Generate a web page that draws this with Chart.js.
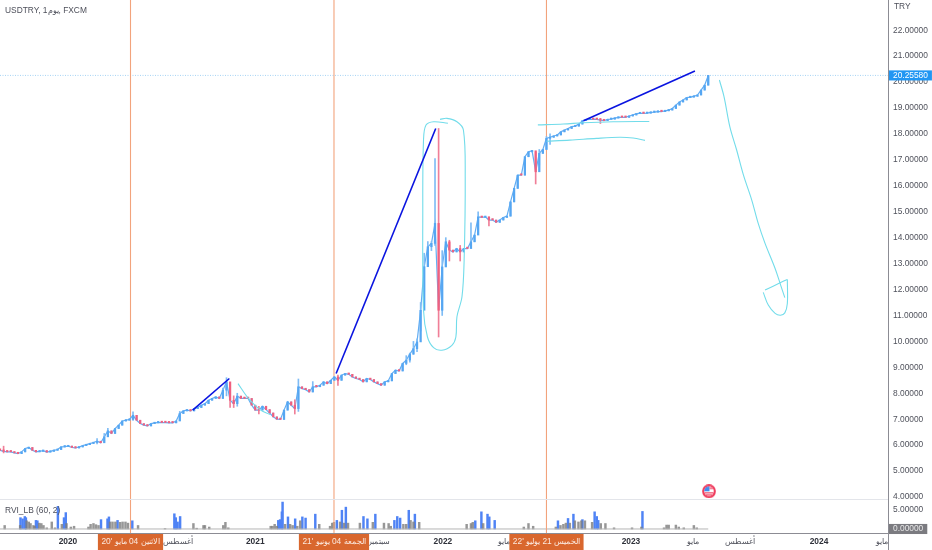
<!DOCTYPE html>
<html><head><meta charset="utf-8">
<style>html,body{margin:0;padding:0;background:#fff}canvas{display:block}</style>
<script src="https://cdn.jsdelivr.net/npm/chart.js@4"></script></head>
<body><canvas id="c" width="932" height="550"></canvas>
<script>
// Weekly closes from week 0; weeks are the x units of the chart
const closes=[5.80,5.76,5.74,5.74,5.70,5.67,5.74,5.87,5.91,5.80,5.74,5.76,5.79,5.73,5.76,5.80,5.83,5.93,5.94,5.96,5.91,5.89,5.93,5.98,6.02,6.06,6.10,6.15,6.09,6.32,6.55,6.45,6.64,6.77,6.93,6.96,6.99,7.15,6.96,6.83,6.77,6.74,6.83,6.86,6.87,6.87,6.87,6.86,6.86,6.93,7.22,7.32,7.35,7.32,7.41,7.45,7.54,7.60,7.73,7.80,7.86,7.80,8.12,8.44,7.73,7.60,7.89,7.80,7.80,7.80,7.54,7.35,7.35,7.50,7.37,7.24,7.09,7.00,6.99,7.35,7.67,7.54,7.41,8.25,8.18,8.14,8.05,8.25,8.25,8.31,8.44,8.37,8.50,8.63,8.50,8.70,8.76,8.73,8.63,8.57,8.53,8.44,8.57,8.53,8.44,8.37,8.31,8.44,8.48,8.76,8.89,8.86,9.15,9.28,9.51,9.72,9.98,11.20,12.88,13.65,13.78,14.55,11.20,12.87,13.84,13.52,13.45,13.58,13.45,13.58,13.58,13.84,14.10,14.80,14.78,14.80,14.68,14.68,14.59,14.68,14.78,14.83,15.38,15.90,16.41,16.41,17.12,17.31,17.35,16.54,17.25,17.40,17.83,17.87,17.92,17.96,18.08,18.15,18.21,18.28,18.30,18.38,18.51,18.55,18.56,18.56,18.56,18.53,18.51,18.56,18.57,18.61,18.64,18.64,18.64,18.69,18.73,18.78,18.79,18.79,18.80,18.83,18.84,18.86,18.86,18.89,18.92,18.98,19.11,19.23,19.31,19.40,19.42,19.45,19.50,19.69,19.88,20.2558];
// Weeks whose wick reaches beyond the body: week, low, high
const wicks=[[1,5.7,5.96],[27,6.05,6.25],[29,6.15,6.45],[30,6.35,6.65],[37,6.95,7.28],[50,6.95,7.3],[62,7.8,8.2],[63,7.9,8.6],[64,7.45,8.4],[65,7.45,7.9],[66,7.5,8.0],[72,7.2,7.5],[82,7.2,7.75],[83,7.3,8.55],[87,8.05,8.45],[94,8.3,8.7],[113,9.1,9.45],[114,9.2,9.55],[115,9.5,10.0],[116,9.6,10.1],[117,10.4,11.5],[118,11.9,13.4],[119,12.9,13.85],[120,13.5,13.85],[121,13.7,17.05],[122,10.17,18.21],[123,11.0,13.5],[124,12.9,14.0],[125,13.1,13.9],[128,13.1,13.7],[131,13.6,14.57],[133,14.4,15.0],[136,14.45,14.8],[149,16.07,17.3],[150,16.8,17.4],[152,17.4,17.9],[153,17.6,18.0],[167,18.4,18.6]];
const lastPrice=20.2558;
const rviBlueX=[5.7,6.3,6.9,7.2,10.0,10.4,16.1,17.8,18.3,28.1,29.9,30.3,32.7,36.8,48.5,48.9,49.4,50.1,77.4,77.9,78.4,78.6,80.1,82.1,84.1,85.0,87.7,93.7,95.1,96.2,101.1,102.2,104.4,109.7,110.5,111.3,113.7,115.4,132.2,133.9,135.6,136.1,137.6,155.2,158.0,159.5,162.0,165.4,166.0,166.4,178.7];
const rviBlue=[2.9,2.6,3.2,2.9,2.2,2.1,5.8,2.9,4.2,2.4,2.6,3.1,2.2,2.1,3.9,2.9,1.8,3.2,2.2,2.4,4.4,6.9,3.1,2.6,3.1,2.8,3.8,2.2,4.8,5.6,3.2,2.6,3.8,2.2,3.2,2.8,4.8,3.8,2.1,4.4,3.8,3.1,2.2,2.1,2.7,3.8,2.4,4.4,3.2,2.2,4.5];
const rviGrayX=[1.3,5.6,7.4,8.0,8.5,9.3,9.6,10.9,11.5,12.1,13.0,14.4,15.3,17.2,18.5,19.7,20.6,24.6,25.2,26.0,26.7,27.4,30.6,31.3,32.1,33.4,34.1,34.9,35.6,38.4,45.9,53.8,54.7,56.6,57.0,58.2,62.1,62.7,63.5,75.3,75.8,76.4,77.0,79.3,80.7,81.4,82.7,83.5,88.8,91.8,92.4,92.9,94.6,95.7,96.8,100.1,103.7,106.8,108.1,108.7,112.2,113.0,114.2,115.0,116.6,129.8,131.0,131.5,134.4,145.7,147.0,148.3,154.6,155.9,156.7,157.4,158.5,159.9,160.9,161.7,162.7,164.7,167.1,168.4,170.8,175.8,178.4,184.7,185.4,186.0,188.0,188.8,190.2,193.0,193.8];
const rviGray=[.9,.9,2.1,1.8,1.4,.9,.7,1.5,1.4,.9,.3,1.8,.3,1.2,1.4,.5,.7,.5,1.2,1.4,1.1,.9,1.8,1.8,1.8,1.7,1.8,1.8,1.5,.9,.1,1.4,.2,.9,.9,.5,.9,1.7,.3,.7,.7,1.2,.7,1.2,1.2,.9,.7,2.1,1.2,.7,1.5,1.7,1.8,1.5,1.5,1.5,1.7,1.5,1.4,.7,1.2,1.2,2.2,1.8,1.7,1.2,1.4,1.7,1.4,.5,1.4,.7,.5,.9,1.2,1.5,1.5,2.1,1.8,2.1,2.1,1.7,1.4,1.4,.3,.3,.5,.3,1.0,1.0,1.0,.5,.3,.9,.3];
// Hand-drawn annotations as [week, price]
const blueLines=[[[53.6,7.35],[63.8,8.57]],[[93.5,8.76],[121.2,18.21]],[[162.3,18.51],[193.3,20.43]]];
const cyanCurves=[
 [[66.2,8.37],[69.1,7.80],[72.3,7.37],[75.1,7.18]],
 [[124.6,18.41],[120.6,18.47],[118.5,18.34],[117.8,17.76],[117.6,15.06],[117.8,11.2],[118.9,10.17],[120.6,9.76],[122.9,9.66],[125.7,9.85],[126.8,10.17],[127.1,10.95],[128.5,11.72],[129.1,13.13],[129.4,16.35],[128.9,18.15],[127.1,18.47],[124.3,18.6],[122.4,18.56]],
 [[149.6,18.35],[156.7,18.38],[162.2,18.43],[170.6,18.47],[180.6,18.48]],
 [[152.0,17.72],[158.5,17.76],[165.9,17.83],[172.4,17.87],[176.1,17.84],[179.4,17.75]],
 [[200.1,20.08],[201.4,19.43],[203.0,18.28],[204.9,17.38],[206.8,16.41],[209.1,15.45],[210.9,14.55],[212.8,13.78],[215.6,12.81],[217.0,12.23],[218.3,11.69]],
 [[219.0,12.39],[217.0,12.26],[212.8,11.98]],
 [[212.3,11.89],[213.7,11.4],[215.6,11.08],[217.1,11.01],[218.3,11.10],[219.0,11.46],[219.0,12.39]]
];
const eventWeeks=[36.3,92.9,152.0];
const eventLabels=["الاثنين 04 مايو '20","الجمعة 04 يونيو '21","الخميس 21 يوليو '22"];
const axisWeeks=[18.9,49.5,71.0,105.5,123.2,140.2,175.5,192.7,205.8,227.8,245.3];
const axisLabels=["2020","أغسطس","2021","سبتمبر","2022","مايو","2023","مايو","أغسطس","2024","مايو"];
const yearLabels=["2020","2021","2022","2023","2024"];
const priceTicks=[22,21,20,19,18,17,16,15,14,13,12,11,10,9,8,7,6,5,4];
const paneTicks=[5,0];
const iconPoint=[197.2,4.22];
const titleText="USDTRY, 1يوم, FXCM", paneText="RVI_LB (60, 2)", unitText="TRY";
const weekMax=247;

const FONT='"Liberation Sans", Arial, sans-serif';
const UP='#55a6f2', DOWN='#f0607f';
Chart.registry.getController('line').prototype.getMaxOverflow=()=>0;
const opens=closes.map((c,i)=>i?closes[i-1]:c);
const wickMap=new Map(wicks.map(w=>[w[0],w]));
const isUp=i=>closes[i]>opens[i];
const pts=a=>a.map(p=>({x:p[0],y:p[1]}));
const tv=c=>c.tick?c.tick.value:NaN;
function isYear(v){const i=axisWeeks.indexOf(v);return i>=0&&yearLabels.includes(axisLabels[i]);}

const icon=document.createElement('canvas');icon.width=14;icon.height=14;
(function(){const g=icon.getContext('2d');
 g.beginPath();g.arc(7,7,6.9,0,7);g.fillStyle='#ef3d5e';g.fill();
 g.beginPath();g.arc(7,7,4.8,0,7);g.fillStyle='#fff';g.fill();g.save();g.clip();
 g.fillStyle='#3f8df0';g.fillRect(0,0,7.5,7);
 g.fillStyle='#ef3d5e';g.fillRect(7.5,3.5,7,1.2);g.fillRect(2,8,10,1.2);g.fillRect(3,10.2,8,1.2);g.restore();})();

const datasets=[];
eventWeeks.forEach(w=>datasets.push({type:'line',yAxisID:'yFull',data:[{x:w,y:0},{x:w,y:1}],borderColor:'#f2a37c',borderWidth:1.1,pointRadius:0,order:6}));
datasets.push({type:'line',yAxisID:'y',data:[{x:0,y:lastPrice},{x:weekMax,y:lastPrice}],borderColor:'#a5d3f5',borderWidth:1,borderDash:[1,1.5],pointRadius:0,order:7});
datasets.push({type:'line',yAxisID:'y',data:closes.map((c,i)=>({x:i,y:c})),borderColor:'#62adf3',borderWidth:1.2,pointRadius:0,order:5.5});
datasets.push({type:'bar',yAxisID:'y',grouped:false,barThickness:1,minBarLength:1,order:5,
 data:closes.map((c,i)=>{const w=wickMap.get(i);return {x:i,y:w?[w[1],w[2]]:[Math.min(c,opens[i]),Math.max(c,opens[i])]};}),
 backgroundColor:c=>{const w=wickMap.get(c.dataIndex);return (w&&c.dataIndex!==121&&!isUp(c.dataIndex))||c.dataIndex===122?'#f07f98':'#7fbcf5';}});
datasets.push({type:'bar',yAxisID:'y',grouped:false,barThickness:1.6,minBarLength:1.4,order:4,
 data:closes.map((c,i)=>({x:i,y:[opens[i],c]})),
 backgroundColor:c=>isUp(c.dataIndex)?UP:DOWN});
blueLines.forEach(l=>datasets.push({type:'line',yAxisID:'y',data:pts(l),borderColor:'#0a14e0',borderWidth:1.6,pointRadius:0,order:2}));
cyanCurves.forEach(l=>datasets.push({type:'line',yAxisID:'y',data:pts(l),borderColor:'#72dcea',borderWidth:1.1,pointRadius:0,tension:.35,order:3}));
datasets.push({type:'line',yAxisID:'y',data:[{x:iconPoint[0],y:iconPoint[1]}],pointStyle:icon,pointRadius:7,showLine:false,order:1});
datasets.push({type:'line',yAxisID:'y2',data:[{x:0,y:0},{x:closes.length-1,y:0}],borderColor:'#b5b5b5',borderWidth:1,pointRadius:0,order:8});
datasets.push({type:'bar',yAxisID:'y2',grouped:false,barThickness:1.8,order:9,data:rviBlueX.map((x,i)=>({x,y:rviBlue[i]})),backgroundColor:'#4f83f5'});
datasets.push({type:'bar',yAxisID:'y2',grouped:false,barThickness:1.8,order:8.5,data:rviGrayX.map((x,i)=>({x,y:rviGray[i]})),backgroundColor:'rgba(125,125,125,.8)'});

const fixY=s=>{s.width=44;s.paddingTop=0;s.paddingBottom=0;};
const frame={id:'frame',afterDraw(ch){const g=ch.ctx,a=ch.chartArea;g.save();
 g.strokeStyle='#e3e5ea';g.lineWidth=1;g.beginPath();g.moveTo(0,ch.scales.y.bottom+.5);g.lineTo(a.right,ch.scales.y.bottom+.5);g.stroke();
 g.strokeStyle='#8c8c94';g.beginPath();g.moveTo(a.right+.5,0);g.lineTo(a.right+.5,550);g.moveTo(0,a.bottom+.5);g.lineTo(a.right,a.bottom+.5);g.stroke();
 g.fillStyle='#4d4f5a';g.font='8.4px '+FONT;g.textBaseline='middle';g.textAlign='left';
 g.fillText(titleText,5,11);g.fillText(paneText,5,511);g.fillText(unitText,894,7);g.restore();}};

new Chart(document.getElementById('c'),{type:'bar',data:{datasets},plugins:[frame],options:{
 responsive:false,animation:false,events:[],devicePixelRatio:1,layout:{padding:0},
 plugins:{legend:{display:false},tooltip:{enabled:false},title:{display:false}},
 scales:{
  x:{type:'linear',offset:false,min:0,max:weekMax,position:'bottom',grid:{display:false,offset:false,drawTicks:false},border:{display:false},
   afterBuildTicks:s=>{s.ticks=axisWeeks.concat(eventWeeks).map(value=>({value}));},
   afterFit:s=>{s.height=17;s.paddingLeft=0;s.paddingRight=0;},
   ticks:{autoSkip:false,maxRotation:0,minRotation:0,padding:4,color:c=>eventWeeks.includes(tv(c))?'#fbe9df':(isYear(tv(c))?'#2f313a':'#50525c'),
    font:c=>({family:FONT,size:8.4,weight:isYear(tv(c))?'bold':'normal'}),
    callback:v=>{let i=eventWeeks.indexOf(v);if(i>=0)return eventLabels[i];return axisLabels[axisWeeks.indexOf(v)];},
    showLabelBackdrop:c=>eventWeeks.includes(tv(c)),backdropColor:'#d9672e',backdropPadding:{x:3.5,y:4}}},
  y:{type:'linear',position:'right',stack:'p',stackWeight:499,min:3.923,max:23.164,grid:{display:false,drawTicks:false},border:{display:false},
   afterBuildTicks:s=>{s.ticks=priceTicks.concat([lastPrice]).map(value=>({value}));},afterFit:fixY,
   ticks:{autoSkip:false,padding:5,color:c=>tv(c)===lastPrice?'#fff':'#50525c',font:{family:FONT,size:8.4},
    callback:v=>v.toFixed(5),showLabelBackdrop:c=>tv(c)===lastPrice,backdropColor:'#2196f3',backdropPadding:{x:4,y:0}}},
  y2:{type:'linear',position:'right',stack:'p',stackWeight:34,min:-1.03,max:7.69,grid:{display:false,drawTicks:false},border:{display:false},
   afterBuildTicks:s=>{s.ticks=paneTicks.map(value=>({value}));},afterFit:fixY,
   ticks:{autoSkip:false,padding:5,color:c=>tv(c)===0?'#e8e8e8':'#50525c',font:{family:FONT,size:8.4},
    callback:v=>v.toFixed(5),showLabelBackdrop:c=>tv(c)===0,backdropColor:'#7b7b80',backdropPadding:{x:4,y:0}}},
  yFull:{type:'linear',display:false,position:'right',min:0,max:1}
 }}});
</script></body></html>
